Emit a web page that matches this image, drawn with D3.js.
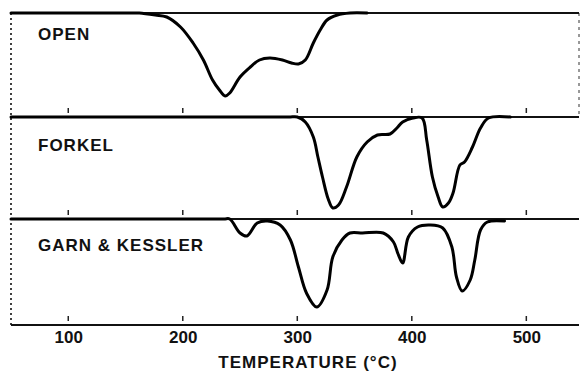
<!DOCTYPE html>
<html>
<head>
<meta charset="utf-8">
<script src="https://cdn.jsdelivr.net/npm/d3@7"></script>
<style>
  body { margin: 0; background: #fff; }
  svg { display: block; }
  text { font-family: "Liberation Sans", Arial, sans-serif; font-weight: bold; fill: #111; }
</style>
</head>
<body>
<div id="chart"></div>
<script>
// temperature ticks on the shared axis
const tickValues = [100, 200, 300, 400, 500];
const panelNames = ["OPEN", "FORKEL", "GARN & KESSLER"];

// curve traces, deflection in arbitrary units (0 = baseline, negative = endotherm)
const openT = [50, 120, 155, 162, 176, 186, 198, 209, 218, 226, 232, 237, 241, 250, 259, 267, 276, 287, 295, 301, 307, 314, 320, 326, 335, 346, 361];
const openV = [0, 0, 0, 0, -2, -4, -14, -30, -47, -67, -77, -83, -80, -64, -54, -47, -45, -47, -50, -51, -47, -30, -17, -7, -2, 0, 0];

const forkelT = [50, 250, 289, 294, 300, 307, 314, 318, 322, 327, 331, 336, 343, 352, 361, 370, 381, 387, 392, 401, 409, 413, 418, 423, 427, 432, 436, 442, 446, 453, 460, 467, 486];
const forkelV = [0, 0, 0, 0, 0, -5, -20, -40, -60, -82, -91, -88, -70, -40, -25, -18, -17, -11, -5, -1, -1, -23, -60, -80, -90, -86, -76, -48, -45, -30, -11, -1, 0];

const garnT = [50, 200, 236, 241, 250, 256, 265, 274, 285, 294, 301, 308, 317, 326, 331, 339, 346, 357, 375, 384, 388, 392, 397, 405, 416, 427, 435, 439, 444, 451, 455, 460, 466, 481];
const garnV = [0, 0, 0, 0, -14, -17, -4, -2, -6, -21, -48, -74, -88, -71, -38, -21, -14, -14, -14, -23, -35, -44, -18, -8, -6, -9, -28, -58, -72, -61, -41, -11, -3, -2];

const series = [
  { name: panelNames[0], t: openT, v: openV },
  { name: panelNames[1], t: forkelT, v: forkelV },
  { name: panelNames[2], t: garnT, v: garnV }
];

const width = 581, height = 371;
const left = 11, right = 579;
const panelTops = [13, 117, 219];
const bottom = 325;

const svg = d3.select("#chart").append("svg")
  .attr("width", width)
  .attr("height", height);

const x = d3.scaleLinear()
  .domain([50, 546])
  .range([left, right]);

// frame
svg.append("line")
  .attr("x1", left).attr("x2", left)
  .attr("y1", panelTops[0]).attr("y2", bottom)
  .attr("stroke", "#111").attr("stroke-width", 1.6)
  .attr("stroke-dasharray", "2,3");
svg.append("line")
  .attr("x1", right).attr("x2", right)
  .attr("y1", panelTops[0]).attr("y2", panelTops[1])
  .attr("stroke", "#333").attr("stroke-width", 1)
  .attr("stroke-dasharray", "3,4");

svg.selectAll("line.hz")
  .data(panelTops.concat([bottom]))
  .join("line")
  .attr("class", "hz")
  .attr("x1", left).attr("x2", right)
  .attr("y1", d => d).attr("y2", d => d)
  .attr("stroke", "#111")
  .attr("stroke-width", 2);

// small tick marks just above each panel floor
const floors = [panelTops[1], panelTops[2], bottom];
floors.forEach(f => {
  svg.append("g")
    .selectAll("line")
    .data(tickValues)
    .join("line")
    .attr("x1", d => x(d)).attr("x2", d => x(d))
    .attr("y1", f - 9).attr("y2", f - 4)
    .attr("stroke", "#222")
    .attr("stroke-width", 1.5);
});

// curves
series.forEach((s, i) => {
  const base = panelTops[i];
  const y = d3.scaleLinear().domain([0, -100]).range([base, base + 100]);
  const line = d3.line()
    .x(d => x(d[0]))
    .y(d => y(d[1]))
    .curve(d3.curveCatmullRom.alpha(0.5));
  svg.append("path")
    .datum(d3.zip(s.t, s.v))
    .attr("d", line)
    .attr("fill", "none")
    .attr("stroke", "#000")
    .attr("stroke-width", 3)
    .attr("stroke-linejoin", "round")
    .attr("stroke-linecap", "round");
});

// panel labels
const labelY = [40, 151, 251];
svg.selectAll("text.panel")
  .data(series)
  .join("text")
  .attr("class", "panel")
  .attr("x", 38)
  .attr("y", (d, i) => labelY[i])
  .style("font-size", "17px")
  .style("letter-spacing", "1px")
  .text(d => d.name);

// x axis labels
const axis = svg.append("g")
  .attr("transform", `translate(0, ${bottom})`)
  .call(d3.axisBottom(x).tickValues(tickValues).tickSize(0).tickPadding(6));
axis.select(".domain").remove();
axis.selectAll("text")
  .style("font-family", "'Liberation Sans', Arial, sans-serif")
  .style("font-weight", "bold")
  .style("font-size", "17px")
  .attr("fill", "#111");

svg.append("text")
  .attr("x", 308)
  .attr("y", 368)
  .attr("text-anchor", "middle")
  .style("font-size", "17px")
  .style("letter-spacing", "1px")
  .text("TEMPERATURE (°C)");
</script>
</body>
</html>
